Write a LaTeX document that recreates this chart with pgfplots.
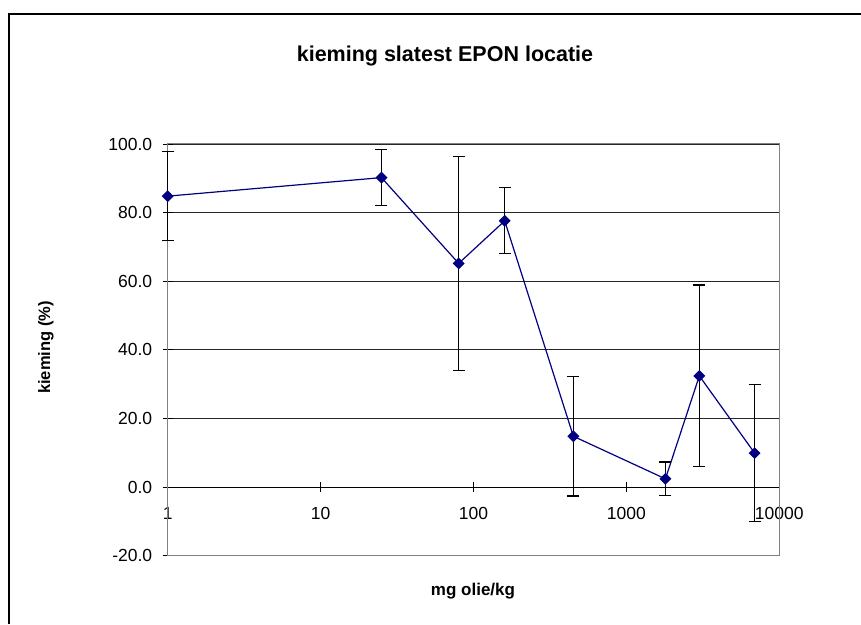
\documentclass[border=0pt]{standalone}
\usepackage{fontspec}
\setmainfont{Liberation Sans}
\usepackage{pgfplots}
\pgfplotsset{compat=1.18}
\definecolor{navy}{RGB}{0,0,128}
\pgfplotstableread{
x y err
1 84.8 13.0
25 90.2 8.2
80 65.2 31.1
160 77.6 9.6
450 14.8 17.4
1800 2.4 4.9
3000 32.4 26.5
6900 9.9 20.0
}\datatable
\begin{document}
\begin{tikzpicture}[x=1pt,y=1pt]
\useasboundingbox (0,0) rectangle (861,624);
\draw[line width=1.3pt] (9,0) -- (9,610) -- (861,610);
\node[font=\bfseries\fontsize{21.5}{25}\selectfont, anchor=base] at (445,562) {kieming slatest EPON locatie};
\node[font=\bfseries\fontsize{16.5}{19}\selectfont, rotate=90] at (46,276.5) {kieming (\%)};
\node[font=\bfseries\fontsize{17}{20}\selectfont, anchor=base] at (473,29) {mg olie/kg};
\begin{axis}[
  at={(167.7pt,68.3pt)}, anchor=south west,
  scale only axis, width=611.6pt, height=411.7pt,
  xmode=log, xmin=1, xmax=10000,
  ymin=-20, ymax=100,
  axis x line=middle, axis y line=left,
  axis line style={-, black, line width=0.9pt},
  hide obscured x ticks=false, hide obscured y ticks=false,
  xtick={1,10,100,1000,10000}, xticklabels={1,10,100,1000,10000},
  xminorticks=false,
  ytick={-20,0,20,40,60,80,100}, yticklabels={-20.0,0.0,20.0,40.0,60.0,80.0,100.0},
  ymajorgrids, grid style={black!85, line width=0.8pt},
  tick align=center, major tick length=10pt, tick style={black, line width=0.8pt},
  ticklabel style={font=\fontsize{17.5}{20}\selectfont},
  xticklabel style={yshift=-12pt},
  yticklabel style={xshift=-7pt},
  clip=false,
]
\draw[gray, line width=1pt] (rel axis cs:0,0) rectangle (rel axis cs:1,1);
\addplot[navy, line width=1.2pt, mark=square*, mark size=3.6pt, mark options={rotate=45, fill=navy, draw=navy},
  error bars/.cd, y dir=both, y explicit,
  error bar style={black, line width=1.1pt},
  error mark options={black, mark size=6pt, line width=1.1pt, rotate=90}]
  table[x=x, y=y, y error=err] {\datatable};
\end{axis}
\end{tikzpicture}
\end{document}
